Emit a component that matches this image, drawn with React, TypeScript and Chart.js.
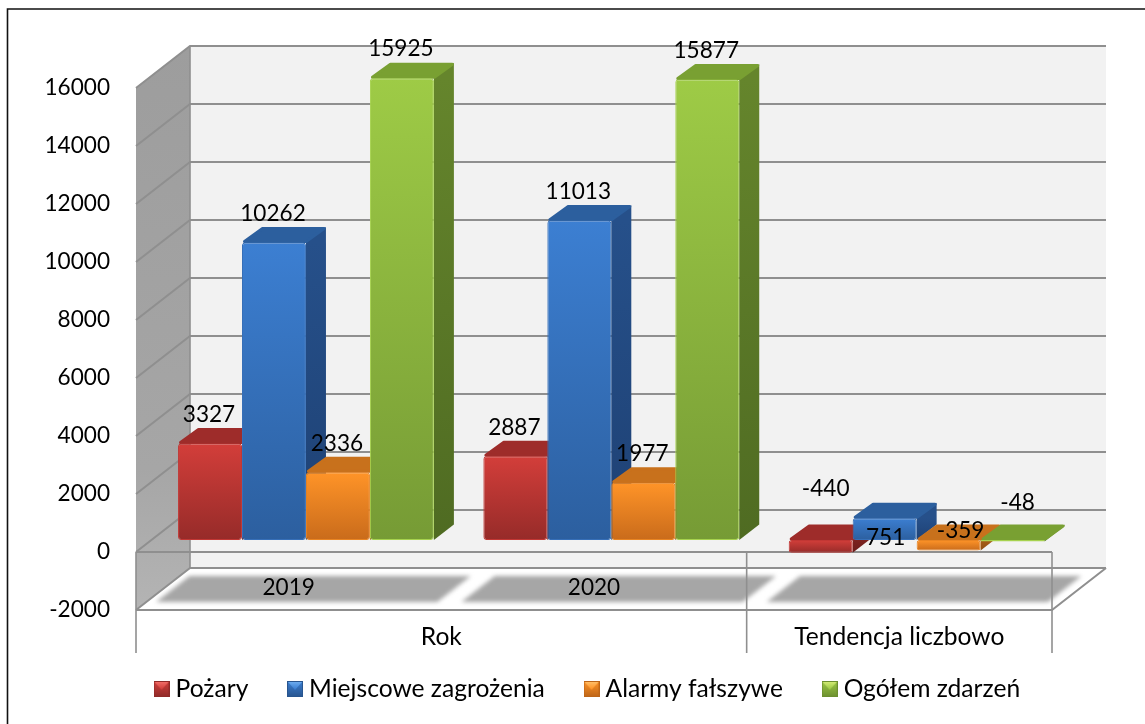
import React, { useEffect, useRef } from "react";
import { Chart, registerables } from "chart.js";

Chart.register(...registerables);

const categories = ["2019", "2020", ""];
const groupNames = ["Rok", "Tendencja liczbowo"];
const groupSpans = [[0, 1], [2, 2]];
const seriesNames = ["Pożary", "Miejscowe zagrożenia", "Alarmy fałszywe", "Ogółem zdarzeń"];
const pozary = [3327, 2887, -440];
const miejscowe = [10262, 11013, 751];
const alarmy = [2336, 1977, -359];
const ogolem = [15925, 15877, -48];
const seriesValues = [pozary, miejscowe, alarmy, ogolem];

const FONT = "Lato";
const FS = 22.6;
const FS_TEXT = 24.6;
const WALL_DX = 54;
const WALL_DY = -42;
const BAR_DX = 17.3;
const BAR_DY = -12;
const DEPTH_X = 20;
const DEPTH_Y = -15.5;

const palette = [
  { frontTop: "#d33e3a", frontBottom: "#962b29", top: "#9e2c2a", sideTop: "#7c2320", sideBottom: "#6a1d1b", edge: "#c23734", lightA: "#f4726c", markA: "#d2403c", markB: "#8f2a28" },
  { frontTop: "#3c7fd2", frontBottom: "#2c5f9f", top: "#2c5f9e", sideTop: "#26508a", sideBottom: "#1e4174", edge: "#366fb8", lightA: "#72b1f2", markA: "#3c7fd2", markB: "#28558f" },
  { frontTop: "#ff9428", frontBottom: "#c96b1b", top: "#c8711c", sideTop: "#a85d17", sideBottom: "#8e4e12", edge: "#e98523", lightA: "#ffc36e", markA: "#ff9428", markB: "#bd6518" },
  { frontTop: "#9ecb46", frontBottom: "#769b35", top: "#79a032", sideTop: "#65852c", sideBottom: "#4f6b22", edge: "#a6d24e", lightA: "#d8ee7a", markA: "#9ecb46", markB: "#6c8f2f" },
];

// manual placement of the "Tendencja liczbowo" data labels, as in the source
const tendencyLabelShift = [[5, -51], [1, -2], [12, -9], [5, -37]];

function makeMarker(p: (typeof palette)[number]) {
  const c = document.createElement("canvas");
  c.width = 16;
  c.height = 16;
  const g = c.getContext("2d")!;
  const lower = g.createLinearGradient(0, 0, 0, 16);
  lower.addColorStop(0, p.markA);
  lower.addColorStop(1, p.markB);
  g.fillStyle = lower;
  g.fillRect(0, 0, 16, 16);
  const up = g.createLinearGradient(0, 0, 0, 8);
  up.addColorStop(0, p.lightA);
  up.addColorStop(1, p.markA);
  g.fillStyle = up;
  g.beginPath();
  g.moveTo(1, 1);
  g.lineTo(15, 1);
  g.lineTo(8, 9);
  g.closePath();
  g.fill();
  g.strokeStyle = p.markB;
  g.lineWidth = 1;
  g.strokeRect(0.5, 0.5, 15, 15);
  return c;
}

function poly(ctx: CanvasRenderingContext2D, pts: number[][]) {
  ctx.beginPath();
  pts.forEach((p, i) => (i ? ctx.lineTo(p[0], p[1]) : ctx.moveTo(p[0], p[1])));
  ctx.closePath();
}

const GRID = "#8f8f8f";

const scenePlugin = {
  id: "scene",
  beforeDraw(chart: any) {
    const { ctx, chartArea: a, scales } = chart;
    const y = scales.y;
    const x = scales.x;
    ctx.save();
    ctx.fillStyle = "#ffffff";
    ctx.fillRect(0, 0, chart.width, chart.height);

    // outer frame
    ctx.strokeStyle = "#111111";
    ctx.lineWidth = 1.6;
    ctx.beginPath();
    ctx.moveTo(7.5, chart.height);
    ctx.lineTo(7.5, 9);
    ctx.lineTo(chart.width, 9);
    ctx.stroke();

    // back wall
    ctx.fillStyle = "#f2f2f2";
    ctx.fillRect(a.left + WALL_DX, a.top + WALL_DY, a.width, a.height);

    // left wall
    const wg = ctx.createLinearGradient(0, a.top + WALL_DY, 0, a.bottom);
    wg.addColorStop(0, "#9d9d9d");
    wg.addColorStop(0.75, "#a6a6a6");
    wg.addColorStop(1, "#b4b4b4");
    ctx.fillStyle = wg;
    poly(ctx, [
      [a.left, a.top],
      [a.left + WALL_DX, a.top + WALL_DY],
      [a.left + WALL_DX, a.bottom + WALL_DY],
      [a.left, a.bottom],
    ]);
    ctx.fill();

    // floor
    ctx.fillStyle = "#ffffff";
    poly(ctx, [
      [a.left, a.bottom],
      [a.left + WALL_DX, a.bottom + WALL_DY],
      [a.right + WALL_DX, a.bottom + WALL_DY],
      [a.right, a.bottom],
    ]);
    ctx.fill();

    // category shadows on the floor
    const band = x.width / categories.length;
    ctx.save();
    ctx.filter = "blur(2px)";
    ctx.fillStyle = "#a6a6a6";
    categories.forEach((_, i) => {
      const l = x.getPixelForTick(i) - band / 2;
      const r = l + band;
      const b = a.bottom - 8;
      const t = a.bottom - 34;
      const sh = (26 * WALL_DX) / -WALL_DY;
      poly(ctx, [
        [l + 20, b],
        [l + 20 + sh, t],
        [r - 4 + sh, t],
        [r - 4, b],
      ]);
      ctx.fill();
    });
    ctx.restore();

    // gridlines along the back and the left walls
    ctx.strokeStyle = GRID;
    ctx.lineWidth = 2;
    y.ticks.forEach((tk: any) => {
      const py = y.getPixelForValue(tk.value);
      ctx.beginPath();
      ctx.moveTo(a.left, py);
      ctx.lineTo(a.left + WALL_DX, py + WALL_DY);
      ctx.lineTo(a.right + WALL_DX, py + WALL_DY);
      ctx.stroke();
    });
    ctx.lineWidth = 1.6;
    ctx.beginPath();
    ctx.moveTo(a.left + WALL_DX, a.top + WALL_DY);
    ctx.lineTo(a.left + WALL_DX, a.bottom + WALL_DY);
    ctx.stroke();

    // front edge of the floor and zero line
    const y0 = y.getPixelForValue(0);
    ctx.lineWidth = 2;
    ctx.beginPath();
    ctx.moveTo(a.left, y0);
    ctx.lineTo(a.right, y0);
    ctx.moveTo(a.left, a.bottom);
    ctx.lineTo(a.right, a.bottom);
    ctx.lineTo(a.right + WALL_DX, a.bottom + WALL_DY);
    ctx.stroke();

    // multi-level category separators and group labels
    const drop = a.bottom + 43;
    ctx.lineWidth = 1.6;
    const edges = [a.left, x.getPixelForTick(2) - band / 2, a.right];
    edges.forEach((ex) => {
      ctx.beginPath();
      ctx.moveTo(ex, y0);
      ctx.lineTo(ex, drop);
      ctx.stroke();
    });
    ctx.fillStyle = "#000000";
    ctx.font = `${FS_TEXT}px ${FONT}`;
    ctx.textAlign = "center";
    ctx.textBaseline = "middle";
    groupNames.forEach((name, i) => {
      const [from, to] = groupSpans[i];
      const cx = (x.getPixelForTick(from) + x.getPixelForTick(to)) / 2;
      ctx.fillText(name, cx, a.bottom + 27);
    });
    ctx.restore();
  },
  beforeDatasetsDraw(chart: any) {
    const { ctx, scales } = chart;
    const y = scales.y;
    ctx.save();
    ctx.translate(BAR_DX, BAR_DY);
    const y0 = y.getPixelForValue(0);
    // painter's order: left to right, fronts are drawn afterwards by Chart.js
    for (let c = 0; c < categories.length; c++) {
      for (let d = 0; d < seriesNames.length; d++) {
        const el = chart.getDatasetMeta(d).data[c];
        const p = palette[d];
        const l = el.x - el.width / 2;
        const r = el.x + el.width / 2;
        const yv = y.getPixelForValue(seriesValues[d][c]);
        const top = Math.min(y0, yv);
        const bot = Math.max(y0, yv);
        const sg = ctx.createLinearGradient(0, top, 0, bot);
        sg.addColorStop(0, p.sideTop);
        sg.addColorStop(1, p.sideBottom);
        ctx.lineJoin = "round";
        ctx.lineWidth = 1.5;
        ctx.fillStyle = sg;
        ctx.strokeStyle = p.sideBottom;
        poly(ctx, [
          [r, top],
          [r + DEPTH_X, top + DEPTH_Y],
          [r + DEPTH_X, bot + DEPTH_Y],
          [r, bot],
        ]);
        ctx.fill();
        // top face: inset and stroked with a round join for the soft bevel
        ctx.fillStyle = p.top;
        ctx.strokeStyle = p.top;
        ctx.lineWidth = 3;
        poly(ctx, [
          [l + 2.5, top - 1],
          [l + DEPTH_X + 0.5, top + DEPTH_Y + 1.5],
          [r + DEPTH_X - 1.5, top + DEPTH_Y + 1.5],
          [r + 0.5, top - 1],
        ]);
        ctx.fill();
        ctx.stroke();
      }
    }
  },
  afterDatasetsDraw(chart: any) {
    const { ctx, scales } = chart;
    ctx.restore();
    const y = scales.y;
    const y0 = y.getPixelForValue(0) + BAR_DY;
    ctx.save();
    ctx.fillStyle = "#000000";
    ctx.font = `${FS}px ${FONT}`;
    ctx.textAlign = "center";
    ctx.textBaseline = "middle";
    seriesValues.forEach((vals, d) => {
      const meta = chart.getDatasetMeta(d);
      vals.forEach((v, c) => {
        const el = meta.data[c];
        const px = el.x + BAR_DX - 1;
        if (c === 2) {
          const s = tendencyLabelShift[d];
          ctx.fillText(String(v), px + s[0] + 1, y0 + s[1]);
        } else {
          ctx.fillText(String(v), px, y.getPixelForValue(v) + BAR_DY - 29);
        }
      });
    });
    ctx.restore();
  },
  afterLayout(chart: any) {
    const lg = chart.legend;
    if (lg) {
      lg.left += 64;
      lg.right += 64;
      const h = lg.bottom - lg.top;
      lg.top = 631.7;
      lg.bottom = 631.7 + h;
    }
  },
};

export default function App() {
  const ref = useRef<HTMLCanvasElement | null>(null);
  useEffect(() => {
    document.body.style.margin = "0";
    document.body.style.background = "#ffffff";
    const markers = palette.map(makeMarker);
    const chart = new Chart(ref.current!, {
      type: "bar",
      plugins: [scenePlugin],
      data: {
        labels: categories,
        datasets: seriesNames.map((name, d) => ({
          label: name,
          data: seriesValues[d],
          clip: false,
          backgroundColor: (c: any) => {
            const p = palette[d];
            const ch = c.chart;
            if (!ch.chartArea || !c.parsed || !ch.scales.y) return p.frontTop;
            const a = ch.scales.y.getPixelForValue(0);
            const b = ch.scales.y.getPixelForValue(c.parsed.y);
            const g = ch.ctx.createLinearGradient(0, Math.min(a, b), 0, Math.max(a, b));
            g.addColorStop(0, p.frontTop);
            g.addColorStop(1, p.frontBottom);
            return g;
          },
          borderColor: palette[d].edge,
          borderWidth: 1,
          borderRadius: 3,
          borderSkipped: false,
          barPercentage: 1,
          categoryPercentage: 0.838,
        })) as any,
      },
      options: {
        responsive: false,
        animation: false,
        layout: { padding: { left: 0, right: 93, top: 88, bottom: 34.4 } },
        scales: {
          x: {
            grid: { display: false },
            border: { display: false },
            afterFit: (s: any) => { s.height = 0; },
            ticks: {
              autoSkip: false,
              maxRotation: 0,
              mirror: true,
              padding: 8.5,
              color: "#000000",
              font: { family: FONT, size: FS },
            },
          },
          y: {
            min: -2000,
            max: 16000,
            grid: { display: false },
            border: { display: false },
            afterFit: (s: any) => { s.width = 136; },
            ticks: {
              stepSize: 2000,
              padding: 18,
              color: "#000000",
              font: { family: FONT, size: FS },
              callback: (v: any) => String(v),
            },
          },
        },
        plugins: {
          tooltip: { enabled: false },
          legend: {
            position: "bottom",
            labels: {
              usePointStyle: true,
              boxWidth: 3.4,
              padding: 45,
              color: "#000000",
              font: { family: FONT, size: FS_TEXT },
              generateLabels: () =>
                seriesNames.map((text, i) => ({
                  text,
                  fillStyle: palette[i].frontTop,
                  strokeStyle: palette[i].frontTop,
                  lineWidth: 0,
                  hidden: false,
                  datasetIndex: i,
                  pointStyle: markers[i] as any,
                  fontColor: "#000000",
                })),
            },
          },
        },
      },
    } as any);
    return () => chart.destroy();
  }, []);
  return <canvas ref={ref} width={1145} height={724} style={{ display: "block" }} />;
}
